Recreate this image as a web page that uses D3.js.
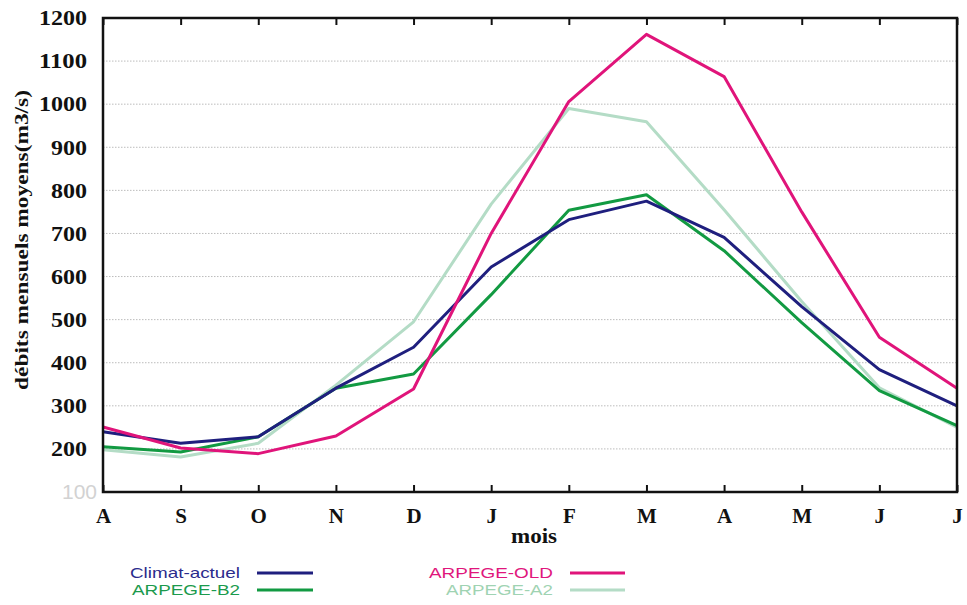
<!DOCTYPE html>
<html>
<head>
<meta charset="utf-8">
<script src="https://cdn.jsdelivr.net/npm/d3@7"></script>
<style>
  html, body { margin: 0; padding: 0; background: #fff; }
  svg { display: block; }
</style>
</head>
<body>
<svg id="chart" width="967" height="605"></svg>
<script>
// ---- data ----
const months = ["A", "S", "O", "N", "D", "J", "F", "M", "A", "M", "J", "J"];
const yTicks = [100, 200, 300, 400, 500, 600, 700, 800, 900, 1000, 1100, 1200];
const climatActuel = [240, 213, 228, 341, 436, 622, 732, 775, 691, 530, 384, 300];
const arpegeB2     = [205, 193, 228, 341, 374, 558, 754, 790, 660, 493, 335, 254];
const arpegeOLD    = [251, 202, 189, 230, 339, 700, 1006, 1162, 1064, 750, 459, 341];
const arpegeA2     = [198, 181, 213, 348, 495, 768, 990, 959, 755, 542, 342, 250];
const seriesNames  = ["Climat-actuel", "ARPEGE-B2", "ARPEGE-OLD", "ARPEGE-A2"];

const colors = {
  "Climat-actuel": "#1f1f7e",
  "ARPEGE-B2": "#129a42",
  "ARPEGE-OLD": "#e0147a",
  "ARPEGE-A2": "#b4dcc6"
};
const textColors = {
  "Climat-actuel": "#2b2b8c",
  "ARPEGE-B2": "#1b9a4c",
  "ARPEGE-OLD": "#e0167c",
  "ARPEGE-A2": "#9fd3b2"
};

const series = [
  { name: "ARPEGE-A2", values: arpegeA2 },
  { name: "ARPEGE-B2", values: arpegeB2 },
  { name: "Climat-actuel", values: climatActuel },
  { name: "ARPEGE-OLD", values: arpegeOLD }
];

// ---- layout ----
const svg = d3.select("#chart");
const L = 103, R = 957, T = 18, B = 492;
const idx = d3.range(months.length);

const x = d3.scalePoint().domain(idx).range([L, R]);
const y = d3.scaleLinear().domain([100, 1200]).range([B, T]);

const serif = "'Liberation Serif', 'Times New Roman', serif";
const sans = "'Liberation Sans', Arial, sans-serif";

// gridlines
svg.append("g")
  .selectAll("line")
  .data(yTicks.filter(v => v > 100 && v < 1200))
  .join("line")
  .attr("x1", L).attr("x2", R)
  .attr("y1", d => y(d)).attr("y2", d => y(d))
  .attr("stroke", "#bcbcbc")
  .attr("stroke-width", 1)
  .attr("stroke-dasharray", "1.5,1.5");

// lines
const line = d3.line().x((d, i) => x(i)).y(d => y(d));
svg.append("g")
  .selectAll("path")
  .data(series)
  .join("path")
  .attr("d", d => line(d.values))
  .attr("fill", "none")
  .attr("stroke", d => colors[d.name])
  .attr("stroke-width", 3)
  .attr("stroke-linejoin", "round");

// bottom axis (ticks pointing inward)
const xAxis = d3.axisBottom(x).tickSizeInner(-7).tickSizeOuter(0).tickPadding(16)
  .tickFormat(i => months[i]);
const gx = svg.append("g").attr("transform", `translate(0,${B})`).call(xAxis);
gx.select(".domain").remove();
gx.selectAll(".tick line").attr("stroke", "#111").attr("stroke-width", 2);
gx.selectAll(".tick text")
  .attr("font-family", serif).attr("font-weight", "bold").attr("font-size", 21)
  .attr("fill", "#111").attr("dy", "0.71em");

// top ticks (pointing inward)
const gxt = svg.append("g").attr("transform", `translate(0,${T})`)
  .call(d3.axisTop(x).tickSizeInner(-7).tickSizeOuter(0).tickFormat(""));
gxt.select(".domain").remove();
gxt.selectAll(".tick line").attr("stroke", "#111").attr("stroke-width", 2);

// left axis labels
const yAxis = d3.axisLeft(y).tickValues(yTicks).tickSize(0).tickPadding(16)
  .tickFormat(d3.format("d"));
const gy = svg.append("g").attr("transform", `translate(${L},0)`).call(yAxis);
gy.select(".domain").remove();
gy.selectAll(".tick text")
  .attr("font-family", serif).attr("font-weight", "bold").attr("font-size", 21)
  .attr("fill", "#111")
  .attr("textLength", d => String(d).length * 12)
  .attr("lengthAdjust", "spacingAndGlyphs");
gy.selectAll(".tick").filter(d => d === 100).select("text")
  .attr("fill", "#d2d2d2").attr("font-weight", "normal").attr("x", -6)
  .attr("font-family", sans).attr("textLength", null);

// frame
svg.append("rect")
  .attr("x", L).attr("y", T).attr("width", R - L).attr("height", B - T)
  .attr("fill", "none").attr("stroke", "#111").attr("stroke-width", 2.5);

// axis titles
svg.append("text")
  .attr("transform", `translate(28,240) rotate(-90)`)
  .attr("text-anchor", "middle")
  .attr("font-family", serif).attr("font-weight", "bold").attr("font-size", 19)
  .attr("textLength", 300).attr("lengthAdjust", "spacingAndGlyphs")
  .attr("fill", "#111")
  .text("débits mensuels moyens(m3/s)");

svg.append("text")
  .attr("x", 534).attr("y", 543)
  .attr("text-anchor", "middle")
  .attr("font-family", serif).attr("font-weight", "bold").attr("font-size", 20)
  .attr("textLength", 46).attr("lengthAdjust", "spacingAndGlyphs")
  .attr("fill", "#111")
  .text("mois");

// legend
const legendPos = {
  "Climat-actuel": { tx: 240, y: 573, lx1: 257, lx2: 313, w: 110 },
  "ARPEGE-B2": { tx: 240, y: 590, lx1: 257, lx2: 313, w: 108 },
  "ARPEGE-OLD": { tx: 553, y: 573, lx1: 570, lx2: 625, w: 124 },
  "ARPEGE-A2": { tx: 553, y: 590, lx1: 570, lx2: 625, w: 107 }
};
const lg = svg.append("g");
seriesNames.forEach(name => {
  const p = legendPos[name];
  lg.append("text")
    .attr("x", p.tx).attr("y", p.y)
    .attr("dy", "0.36em")
    .attr("text-anchor", "end")
    .attr("font-family", sans).attr("font-size", 15)
    .attr("textLength", p.w).attr("lengthAdjust", "spacingAndGlyphs")
    .attr("fill", textColors[name])
    .text(name);
  lg.append("line")
    .attr("x1", p.lx1).attr("x2", p.lx2)
    .attr("y1", p.y).attr("y2", p.y)
    .attr("stroke", colors[name]).attr("stroke-width", 3);
});
</script>
</body>
</html>
